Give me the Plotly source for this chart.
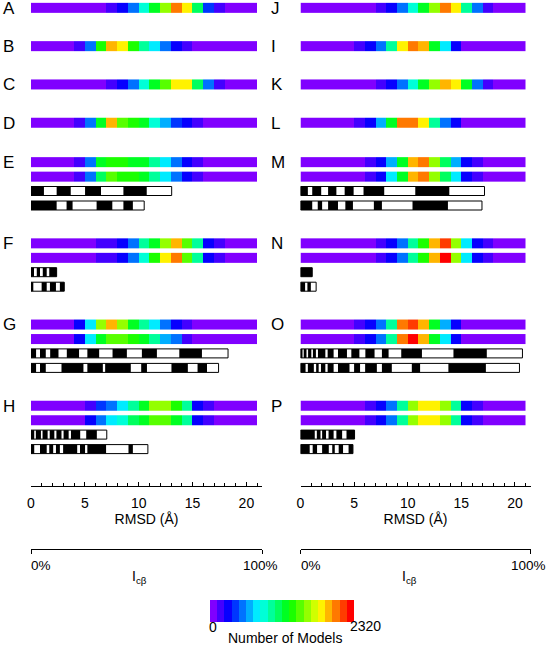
import colorsys
import numpy as np
import plotly.graph_objects as go

# ------------------------------------------------------------------ data
rmsd_edges = list(range(22))          # 1 Å bins, 0-21 Å
count_max = 2320                      # top of the colour scale (number of models)
rmsd_ticks = [0, 5, 10, 15, 20]
icb_ticks = [0, 100]
icb_labels = ["0%", "100%"]

# heat rows: number of models per 1 Å RMSD bin
A = [0, 0, 0, 2, 8, 25, 70, 170, 290, 520, 870, 1220, 1565, 2030, 1800, 1100, 410, 170, 50, 10, 0]
B = [0, 3, 15, 60, 170, 520, 1330, 1915, 1800, 1330, 985, 750, 520, 290, 170, 80, 30, 8, 2, 0, 0]
C = [0, 0, 0, 3, 10, 30, 75, 170, 290, 520, 870, 1220, 1450, 1800, 1800, 1100, 520, 170, 45, 8, 0]
D = [0, 2, 12, 55, 170, 520, 1220, 1915, 1450, 1330, 1220, 870, 640, 410, 290, 170, 60, 15, 3, 0, 0]
J = [0, 0, 0, 0, 4, 15, 60, 170, 290, 520, 870, 1220, 1565, 2030, 1800, 985, 520, 170, 50, 10, 0]
I = [0, 1, 8, 30, 80, 170, 290, 520, 985, 1800, 2030, 1915, 1220, 750, 290, 90, 25, 5, 0, 0, 0]
K = [0, 0, 0, 1, 5, 20, 70, 170, 290, 520, 870, 1220, 1565, 1915, 1800, 1220, 520, 170, 45, 6, 0]
L = [0, 2, 10, 40, 90, 170, 290, 640, 1220, 2030, 2030, 1800, 985, 520, 290, 100, 30, 6, 0, 0, 0]
E1 = [0, 2, 15, 60, 170, 520, 1220, 1330, 1330, 1220, 1220, 985, 750, 520, 290, 170, 70, 20, 3, 0, 0]
E2 = [0, 3, 18, 65, 170, 520, 1100, 1450, 1330, 1330, 1220, 985, 750, 520, 290, 170, 65, 18, 3, 0, 0]
F1 = [0, 0, 1, 6, 20, 50, 170, 200, 290, 520, 985, 1220, 1565, 1915, 1450, 985, 290, 170, 60, 10, 0]
F2 = [0, 0, 1, 5, 18, 45, 170, 190, 290, 520, 870, 1330, 1800, 2030, 1450, 985, 290, 170, 55, 8, 0]
G1 = [0, 4, 20, 80, 290, 750, 1565, 1915, 1565, 1220, 985, 750, 520, 290, 170, 70, 20, 4, 0, 0, 0]
G2 = [0, 4, 22, 85, 290, 750, 1220, 1450, 1450, 1330, 1220, 985, 640, 520, 170, 75, 20, 4, 0, 0, 0]
H1 = [0, 1, 6, 25, 70, 170, 410, 520, 750, 985, 1220, 1565, 1565, 1330, 985, 290, 170, 60, 15, 2, 0]
H2 = [0, 1, 7, 28, 80, 290, 520, 750, 870, 1100, 1220, 1450, 1450, 1220, 985, 290, 170, 90, 20, 3, 0]
M1 = [0, 0, 1, 6, 25, 100, 170, 290, 640, 1220, 1915, 2030, 1565, 1100, 640, 290, 170, 60, 12, 1, 0]
M2 = [0, 0, 1, 7, 28, 100, 170, 290, 750, 1220, 1915, 2030, 1565, 1100, 750, 290, 170, 65, 14, 1, 0]
N1 = [0, 0, 0, 2, 8, 30, 90, 170, 290, 520, 985, 1330, 1915, 2145, 1565, 750, 290, 170, 50, 8, 0]
N2 = [0, 0, 0, 2, 9, 32, 95, 170, 290, 520, 985, 1330, 1915, 2260, 1565, 750, 290, 170, 55, 9, 0]
O1 = [0, 1, 6, 30, 95, 170, 290, 520, 985, 2030, 2145, 1915, 1220, 640, 290, 90, 25, 4, 0, 0, 0]
O2 = [0, 1, 7, 32, 100, 170, 290, 520, 985, 2030, 2260, 1915, 1220, 750, 290, 95, 28, 5, 0, 0, 0]
P1 = [0, 0, 2, 10, 35, 90, 170, 290, 520, 985, 1565, 1800, 1800, 1565, 985, 290, 170, 60, 12, 1, 0]
P2 = [0, 0, 2, 11, 38, 95, 170, 290, 520, 985, 1565, 1800, 1800, 1565, 985, 290, 170, 65, 14, 1, 0]

# binary rows: alternating black/white segment lengths (% of I_cβ), starting with black
E3 = [5.6, 5.5, 6.1, 6.2, 6.9, 9.7, 10.1, 10.8]
E4 = [11.1, 4.3, 2.6, 10.4, 6.8, 4.8, 4.1, 4.9]
F3 = [1.3, 1.2, 1.4, 1.2, 1.7, 1.1, 3.2]
F4 = [1.0, 3.6, 2.2, 1.4, 2.6, 1.7, 1.9]
G3 = [2.2, 1.7, 2.5, 1.9, 3.6, 3.6, 5.3, 3.6, 5.1, 5.8, 6.2, 6.5, 6.5, 9.7, 9.8, 11.3]
G4 = [2.2, 1.7, 2.5, 6.8, 9.5, 1.7, 6.7, 1.0, 11.1, 4.5, 2.5, 10.6, 7.1, 4.2, 4.1, 5.0]
H3 = [1.4, 0.7, 2.2, 0.7, 2.2, 0.9, 2.0, 0.9, 2.2, 0.9, 2.2, 1.0, 4.0, 2.6, 4.6, 4.3]
H4 = [1.4, 2.5, 2.9, 1.1, 1.7, 1.2, 1.7, 1.4, 6.1, 1.2, 2.2, 1.0, 8.1, 9.7, 1.9, 6.5]
M3 = [3.2, 1.9, 3.9, 3.0, 3.6, 3.6, 3.9, 4.3, 9.0, 13.5, 14.8, 15.3]
M4 = [5.1, 2.4, 1.9, 2.6, 4.3, 3.2, 3.3, 9.1, 3.5, 13.3, 15.4, 14.8]
N3 = [5.1]
N4 = [2.0, 1.0, 1.5, 2.3]
O3 = [0.7, 0.7, 1.2, 0.7, 1.4, 0.7, 1.3, 0.9, 3.2, 1.0, 2.6, 1.9, 3.9, 1.9, 3.5, 2.6,
      4.0, 3.2, 2.9, 5.5, 9.0, 13.7, 14.5, 15.5]
O4 = [2.2, 1.0, 2.6, 1.0, 1.1, 1.0, 1.9, 1.0, 2.6, 1.9, 5.0, 2.0, 2.6, 2.2, 5.1, 2.2,
      4.3, 8.7, 3.6, 12.3, 16.3, 14.6]
P3 = [6.2, 0.9, 1.6, 0.7, 1.7, 1.1, 2.2, 1.2, 2.5, 1.9, 3.5]
P4 = [4.0, 1.3, 1.9, 2.2, 2.9, 1.5, 1.1, 1.7, 1.9, 2.4, 1.9]

left_panels = ["A", "B", "C", "D", "E", "F", "G", "H"]
right_panels = ["J", "I", "K", "L", "M", "N", "O", "P"]
heat_rows = {"A": [A], "B": [B], "C": [C], "D": [D], "E": [E1, E2], "F": [F1, F2],
             "G": [G1, G2], "H": [H1, H2], "J": [J], "I": [I], "K": [K], "L": [L],
             "M": [M1, M2], "N": [N1, N2], "O": [O1, O2], "P": [P1, P2]}
binary_rows = {"E": [E3, E4], "F": [F3, F4], "G": [G3, G4], "H": [H3, H4],
               "M": [M3, M4], "N": [N3, N4], "O": [O3, O4], "P": [P3, P4]}

# ------------------------------------------------------------------ style
W, H = 550, 647
FONT = "Liberation Sans, Arial, sans-serif"
n_steps = 20
step_cols = []
for i in range(n_steps):
    r, g, b = colorsys.hsv_to_rgb((270 - 270 * i / (n_steps - 1)) / 360, 1, 1)
    step_cols.append(f"rgb({round(r*255)},{round(g*255)},{round(b*255)})")
colorscale = []
for i, c in enumerate(step_cols):
    colorscale.append([i / n_steps, c])
    colorscale.append([(i + 1) / n_steps, c])

Y_RMSD = 486              # pixel row of the RMSD axis line
Y_ICB = 549               # pixel row of the I_cβ axis line
HEAT_H, BIN_H = 9.7, 9.0
SIMPLE_TOP, SIMPLE_STEP = 7.7, 38.3
GROUP_TOP, GROUP_STEP = 162.0, 81.2
ROW_OFF = [0, 14.5, 29.0, 43.5]

cols = [
    dict(panels=left_panels, xr="x", yr="y", xi="x3", yi="y3", dom=(31, 262), letter_x=1),
    dict(panels=right_panels, xr="x2", yr="y2", xi="x4", yi="y4", dom=(300.5, 530.5),
         letter_x=268.5),
]

fig = go.Figure()
annotations = []
axis_font = dict(size=14, color="black", family=FONT)

for col in cols:
    white_x, white_y = [], []
    black_x, black_base, black_y = [], [], []
    for p, name in enumerate(col["panels"]):
        yc0 = SIMPLE_TOP + SIMPLE_STEP * p if p < 4 else GROUP_TOP + GROUP_STEP * (p - 4)
        annotations.append(dict(text=name, x=col["letter_x"] / W, y=1 - (yc0 + 0.5) / H,
                                xref="paper", yref="paper", xanchor="left", yanchor="middle",
                                showarrow=False, font=dict(size=17, color="black", family=FONT)))
        for r, z in enumerate(heat_rows[name]):
            yc = yc0 + ROW_OFF[r]
            fig.add_trace(go.Heatmap(z=[z], x=rmsd_edges, y=[yc - HEAT_H / 2, yc + HEAT_H / 2],
                                     coloraxis="coloraxis", xaxis=col["xr"], yaxis=col["yr"],
                                     hoverinfo="skip"))
        for r, segs in enumerate(binary_rows.get(name, [])):
            yc = yc0 + ROW_OFF[2 + r]
            segs = np.array(segs)
            starts = np.concatenate([[0], np.cumsum(segs)[:-1]])
            white_x.append(float(segs.sum()))
            white_y.append(yc)
            for k in range(0, len(segs), 2):
                black_x.append(float(segs[k]))
                black_base.append(float(starts[k]))
                black_y.append(yc)
    fig.add_trace(go.Bar(x=white_x, y=white_y, orientation="h", width=BIN_H, base=0,
                         marker=dict(color="white", line=dict(color="black", width=1)),
                         xaxis=col["xi"], yaxis=col["yi"], hoverinfo="skip", showlegend=False))
    fig.add_trace(go.Bar(x=black_x, y=black_y, base=black_base, orientation="h", width=BIN_H,
                         marker=dict(color="black", line=dict(width=0)),
                         xaxis=col["xi"], yaxis=col["yi"], hoverinfo="skip", showlegend=False))

layout_axes = {}
for i, col in enumerate(cols):
    sfx_r = "" if i == 0 else "2"
    sfx_i = "3" if i == 0 else "4"
    dom = [col["dom"][0] / W, col["dom"][1] / W]
    layout_axes["xaxis" + sfx_r] = dict(
        domain=dom, range=[0, 21.45], anchor="y" + sfx_r, showline=True, linecolor="black",
        linewidth=1, ticks="inside", ticklen=4, tickcolor="black", tickvals=rmsd_ticks,
        minor=dict(dtick=1, ticks="inside", ticklen=3, tickcolor="black"),
        showgrid=False, zeroline=False, tickfont=axis_font, automargin=False,
        ticklabelstandoff=4,
        title=dict(text="RMSD (Å)", font=axis_font, standoff=1))
    layout_axes["yaxis" + sfx_r] = dict(domain=[1 - Y_RMSD / H, 1], range=[Y_RMSD, 0],
                                        visible=False, anchor="x" + sfx_r)
    layout_axes["xaxis" + sfx_i] = dict(
        domain=dom, anchor="y" + sfx_i, range=[0, 100], automargin=False,
        showline=True, linecolor="black", linewidth=1, ticks="outside", ticklen=4,
        tickcolor="black", tickvals=icb_ticks, showticklabels=False,
        showgrid=False, zeroline=False)
    layout_axes["yaxis" + sfx_i] = dict(domain=[1 - Y_ICB / H, 1], range=[Y_ICB, 0],
                                        visible=False, anchor="x" + sfx_i)
    # I_cβ tick labels and title
    x0, x1 = col["dom"]
    annotations.append(dict(text=icb_labels[0], x=(x0 - 2) / W, y=1 - 565 / H, xref="paper",
                            yref="paper", xanchor="left", yanchor="middle", showarrow=False,
                            font=dict(size=13.5, color="black", family=FONT)))
    annotations.append(dict(text=icb_labels[1], x=(x1 - 2) / W, y=1 - 565 / H, xref="paper",
                            yref="paper", xanchor="center", yanchor="middle", showarrow=False,
                            font=dict(size=13.5, color="black", family=FONT)))
    annotations.append(dict(text="I<sub>cβ</sub>", x=((x0 + x1) / 2 - 6.5) / W, y=1 - 577 / H,
                            xref="paper", yref="paper", xanchor="center", yanchor="middle",
                            showarrow=False, font=axis_font))

# colour-bar labels
annotations.append(dict(text="0", x=213 / W, y=1 - 627 / H, xref="paper", yref="paper",
                        xanchor="center", yanchor="middle", showarrow=False, font=axis_font))
annotations.append(dict(text=str(count_max), x=348 / W, y=1 - 626 / H, xref="paper", yref="paper",
                        xanchor="left", yanchor="middle", showarrow=False, font=axis_font))
annotations.append(dict(text="Number of Models", x=285 / W, y=1 - 638 / H, xref="paper",
                        yref="paper", xanchor="center", yanchor="middle", showarrow=False,
                        font=axis_font))

fig.update_layout(
    width=W, height=H, margin=dict(l=0, r=0, t=0, b=0, autoexpand=False),
    paper_bgcolor="white", plot_bgcolor="rgba(0,0,0,0)",
    font=dict(family=FONT, color="black", size=14),
    barmode="overlay", showlegend=False,
    coloraxis=dict(cmin=0, cmax=count_max, colorscale=colorscale,
                   colorbar=dict(orientation="h", thickness=22, thicknessmode="pixels",
                                 len=144, lenmode="pixels", x=210 / W, xanchor="left",
                                 y=1 - 600 / H, yanchor="top", xpad=0, ypad=0,
                                 outlinewidth=0, ticks="", tickvals=[], tickfont=axis_font)),
    annotations=annotations,
    **layout_axes,
)

fig.write_html("out.html", config={"displayModeBar": False},
               post_script="document.body.style.margin='0px';")
